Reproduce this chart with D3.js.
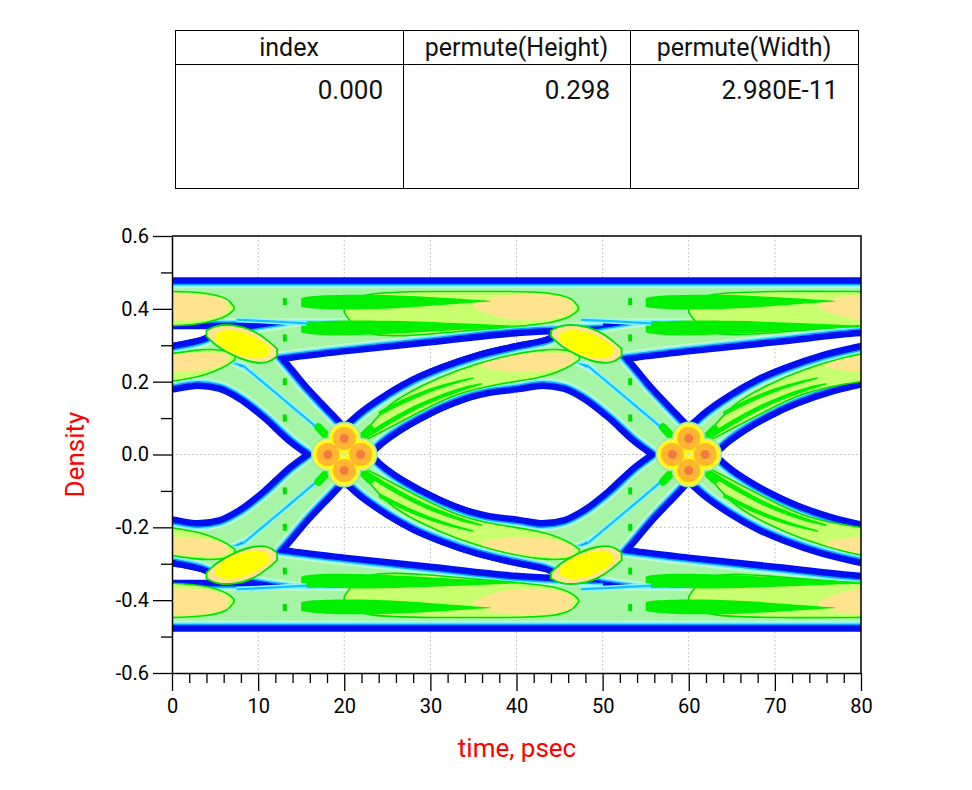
<!DOCTYPE html>
<html>
<head>
<meta charset="utf-8">
<title>Eye density</title>
<style>
  body { margin: 0; background: #fff; }
  svg { display: block; font-family: Roboto, "Liberation Sans", sans-serif; }
  .axis text { font-size: 20px; font-family: Roboto, sans-serif; fill: #000; }
</style>
<script src="https://cdn.jsdelivr.net/npm/d3@7/dist/d3.min.js"></script>
</head>
<body>
<script>

// ---------- table ----------
const tableHeaders = ["index", "permute(Height)", "permute(Width)"];
const tableValues  = ["0.000", "0.298", "2.980E-11"];

// ---------- axes ----------
const xMajorTicks = [0, 10, 20, 30, 40, 50, 60, 70, 80];
const xMinorTicks = [2, 4, 6, 8, 12, 14, 16, 18, 22, 24, 26, 28, 32, 34, 36, 38,
                     42, 44, 46, 48, 52, 54, 56, 58, 62, 64, 66, 68, 72, 74, 76, 78];
const yMajorTicks = [-0.6, -0.4, -0.2, 0, 0.2, 0.4, 0.6];
const yMinorTicks = [-0.5, -0.3, -0.1, 0.1, 0.3, 0.5];
const xGrid = [10, 20, 30, 40, 50, 60, 70];
const yGrid = [-0.4, -0.2, 0, 0.2, 0.4];

// ---------- traces [time psec, level] ----------
const levelHigh = [[-5, 0.415], [85, 0.415]];
const levelLow  = [[-5, -0.415], [85, -0.415]];
const stayHigh = [[-5,0.22],[0,0.245],[4,0.265],[7,0.29],[9,0.3],[13,0.315],[20,0.335],[30,0.36],[40,0.385],[50,0.395]];
const stayLow  = [[-5,-0.22],[0,-0.245],[4,-0.265],[7,-0.29],[9,-0.3],[13,-0.315],[20,-0.335],[30,-0.36],[40,-0.385],[50,-0.395]];
const riseA = [[-5,-0.22],[0,-0.245],[4,-0.265],[7,-0.29],[9,-0.28],[11.5,-0.22],[14,-0.15],[17,-0.075],[20,0],[23,0.07],[26,0.12],[29,0.16],[32,0.19],[36,0.222],[40,0.245],[44,0.265],[47,0.29],[49,0.3],[53,0.315],[60,0.335],[70,0.36],[80,0.385],[85,0.39]];
const fallA = [[-5,0.22],[0,0.245],[4,0.265],[7,0.29],[9,0.28],[11.5,0.22],[14,0.15],[17,0.075],[20,0],[23,-0.07],[26,-0.12],[29,-0.16],[32,-0.19],[36,-0.222],[40,-0.245],[44,-0.265],[47,-0.29],[49,-0.3],[53,-0.315],[60,-0.335],[70,-0.36],[80,-0.385],[85,-0.39]];
const riseB = [[26,-0.12],[29,-0.16],[32,-0.19],[36,-0.222],[40,-0.245],[44,-0.265],[47,-0.29],[49,-0.28],[51.5,-0.22],[54,-0.15],[57,-0.075],[60,0],[63,0.07],[66,0.12],[69,0.16],[72,0.19],[76,0.222],[80,0.245],[84,0.265]];
const fallB = [[26,0.12],[29,0.16],[32,0.19],[36,0.222],[40,0.245],[44,0.265],[47,0.29],[49,0.28],[51.5,0.22],[54,0.15],[57,0.075],[60,0],[63,-0.07],[66,-0.12],[69,-0.16],[72,-0.19],[76,-0.222],[80,-0.245],[84,-0.265]];
const fallA2 = [[-4,0.2],[0,0.225],[3,0.235],[6,0.225],[9,0.19],[12,0.135],[15,0.07],[17,0.035],[19,0],[22,-0.055],[25,-0.1],[28,-0.14],[32,-0.185],[36,-0.22],[40,-0.245],[45,-0.265]];
const riseA2 = [[-4,-0.2],[0,-0.225],[3,-0.235],[6,-0.225],[9,-0.19],[12,-0.135],[15,-0.07],[17,-0.035],[19,0],[22,0.055],[25,0.1],[28,0.14],[32,0.185],[36,0.22],[40,0.245],[45,0.265]];
const fallB2 = [[28,0.14],[32,0.185],[36,0.212],[40,0.225],[43,0.235],[46,0.225],[49,0.19],[52,0.135],[55,0.07],[57,0.035],[59,0],[62,-0.055],[65,-0.1],[68,-0.14],[72,-0.185],[76,-0.22],[80,-0.245],[85,-0.265]];
const riseB2 = [[28,-0.14],[32,-0.185],[36,-0.212],[40,-0.225],[43,-0.235],[46,-0.225],[49,-0.19],[52,-0.135],[55,-0.07],[57,-0.035],[59,0],[62,0.055],[65,0.1],[68,0.14],[72,0.185],[76,0.22],[80,0.245],[85,0.265]];

// ---------- density detail bands [time, low, high] ----------
const ygUpper = [
  [[-5,0.352,0.448],[0,0.352,0.448],[4,0.36,0.445],[6.5,0.38,0.43],[7.2,0.398,0.405]],
  [[20,0.39,0.41],[22,0.318,0.445],[30,0.33,0.448],[40,0.352,0.448],[44,0.36,0.445],[46.5,0.38,0.43],[47.2,0.398,0.405]],
  [[60,0.39,0.41],[62,0.32,0.445],[70,0.335,0.448],[80,0.355,0.448],[85,0.36,0.445]],
  [[-5,0.2,0.27],[-2,0.195,0.268],[3,0.21,0.29],[6,0.238,0.288],[7.3,0.26,0.275]],
  [[22.5,0.04,0.065],[25,0.07,0.138],[29,0.12,0.19],[33,0.168,0.232],[38,0.195,0.268],[43,0.21,0.29],[46,0.238,0.288],[47.3,0.26,0.275]],
  [[62.5,0.04,0.065],[65,0.07,0.138],[69,0.12,0.19],[73,0.168,0.232],[78,0.195,0.268],[83,0.21,0.29]]
];
const ygLower = [
  [[-5,-0.448,-0.352],[0,-0.448,-0.352],[4,-0.445,-0.36],[6.5,-0.43,-0.38],[7.2,-0.405,-0.398]],
  [[20,-0.41,-0.39],[22,-0.445,-0.318],[30,-0.448,-0.33],[40,-0.448,-0.352],[44,-0.445,-0.36],[46.5,-0.43,-0.38],[47.2,-0.405,-0.398]],
  [[60,-0.41,-0.39],[62,-0.445,-0.32],[70,-0.448,-0.335],[80,-0.448,-0.355],[85,-0.445,-0.36]],
  [[-5,-0.27,-0.2],[-2,-0.268,-0.195],[3,-0.29,-0.21],[6,-0.288,-0.238],[7.3,-0.275,-0.26]],
  [[22.5,-0.065,-0.04],[25,-0.138,-0.07],[29,-0.19,-0.12],[33,-0.232,-0.168],[38,-0.268,-0.195],[43,-0.29,-0.21],[46,-0.288,-0.238],[47.3,-0.275,-0.26]],
  [[62.5,-0.065,-0.04],[65,-0.138,-0.07],[69,-0.19,-0.12],[73,-0.232,-0.168],[78,-0.268,-0.195],[83,-0.29,-0.21]]
];
const paleUpper = [
  [[-5,0.37,0.44],[-2,0.37,0.44],[4,0.365,0.442],[6.5,0.39,0.422]],
  [[35,0.405,0.415],[38,0.37,0.44],[44,0.365,0.442],[46.5,0.39,0.422]],
  [[75,0.405,0.415],[78,0.37,0.44],[84,0.365,0.442]],
  [[-5,0.225,0.27],[-1,0.225,0.27],[4,0.228,0.283],[6.5,0.25,0.275]],
  [[36,0.24,0.25],[39,0.225,0.27],[44,0.228,0.283],[46.5,0.25,0.275]],
  [[76,0.24,0.25],[79,0.225,0.27],[84,0.228,0.283]]
];
const paleLower = [
  [[-5,-0.44,-0.37],[-2,-0.44,-0.37],[4,-0.442,-0.365],[6.5,-0.422,-0.39]],
  [[35,-0.415,-0.405],[38,-0.44,-0.37],[44,-0.442,-0.365],[46.5,-0.422,-0.39]],
  [[75,-0.415,-0.405],[78,-0.44,-0.37],[84,-0.442,-0.365]],
  [[-5,-0.27,-0.225],[-1,-0.27,-0.225],[4,-0.283,-0.228],[6.5,-0.275,-0.25]],
  [[36,-0.25,-0.24],[39,-0.27,-0.225],[44,-0.283,-0.228],[46.5,-0.275,-0.25]],
  [[76,-0.25,-0.24],[79,-0.27,-0.225],[84,-0.283,-0.228]]
];
const greenUpper = [
  [[15,0.405,0.43],[17,0.398,0.438],[24,0.398,0.44],[30,0.408,0.432],[35,0.417,0.425],[37,0.42,0.422]],
  [[15,0.335,0.36],[17,0.325,0.368],[25,0.33,0.368],[32,0.34,0.362],[38,0.348,0.356],[41,0.351,0.353]],
  [[55,0.405,0.43],[57,0.398,0.438],[64,0.398,0.44],[70,0.408,0.432],[75,0.417,0.425],[77,0.42,0.422]],
  [[55,0.335,0.36],[57,0.325,0.368],[65,0.33,0.368],[72,0.34,0.362],[78,0.348,0.356],[81,0.351,0.353]],
  [[22,0.035,0.05],[25,0.08,0.095],[28,0.12,0.134],[31,0.152,0.164],[34,0.178,0.188],[36,0.192,0.196]],
  [[24,0.105,0.118],[27,0.142,0.155],[30,0.172,0.183],[33,0.195,0.203],[35,0.208,0.212]],
  [[62,0.035,0.05],[65,0.08,0.095],[68,0.12,0.134],[71,0.152,0.164],[74,0.178,0.188],[76,0.192,0.196]],
  [[64,0.105,0.118],[67,0.142,0.155],[70,0.172,0.183],[73,0.195,0.203],[75,0.208,0.212]]
];
const greenLower = [
  [[15,-0.43,-0.405],[17,-0.438,-0.398],[24,-0.44,-0.398],[30,-0.432,-0.408],[35,-0.425,-0.417],[37,-0.422,-0.42]],
  [[15,-0.36,-0.335],[17,-0.368,-0.325],[25,-0.368,-0.33],[32,-0.362,-0.34],[38,-0.356,-0.348],[41,-0.353,-0.351]],
  [[55,-0.43,-0.405],[57,-0.438,-0.398],[64,-0.44,-0.398],[70,-0.432,-0.408],[75,-0.425,-0.417],[77,-0.422,-0.42]],
  [[55,-0.36,-0.335],[57,-0.368,-0.325],[65,-0.368,-0.33],[72,-0.362,-0.34],[78,-0.356,-0.348],[81,-0.353,-0.351]],
  [[22,-0.05,-0.035],[25,-0.095,-0.08],[28,-0.134,-0.12],[31,-0.164,-0.152],[34,-0.188,-0.178],[36,-0.196,-0.192]],
  [[24,-0.118,-0.105],[27,-0.155,-0.142],[30,-0.183,-0.172],[33,-0.203,-0.195],[35,-0.212,-0.208]],
  [[62,-0.05,-0.035],[65,-0.095,-0.08],[68,-0.134,-0.12],[71,-0.164,-0.152],[74,-0.188,-0.178],[76,-0.196,-0.192]],
  [[64,-0.118,-0.105],[67,-0.155,-0.142],[70,-0.183,-0.172],[73,-0.203,-0.195],[75,-0.212,-0.208]]
];
const blobOuter = [
  [[4,0.325,0.34],[5,0.3,0.354],[7,0.272,0.358],[9.5,0.25,0.342],[11.3,0.252,0.31],[12.2,0.27,0.29]],
  [[44,0.325,0.34],[45,0.3,0.354],[47,0.272,0.358],[49.5,0.25,0.342],[51.3,0.252,0.31],[52.2,0.27,0.29]],
  [[4,-0.34,-0.325],[5,-0.354,-0.3],[7,-0.358,-0.272],[9.5,-0.342,-0.25],[11.3,-0.31,-0.252],[12.2,-0.29,-0.27]],
  [[44,-0.34,-0.325],[45,-0.354,-0.3],[47,-0.358,-0.272],[49.5,-0.342,-0.25],[51.3,-0.31,-0.252],[52.2,-0.29,-0.27]]
];
const blobCore = [
  [[5,0.315,0.33],[6,0.288,0.345],[8.5,0.265,0.338],[10.5,0.262,0.31],[11.3,0.278,0.295]],
  [[45,0.315,0.33],[46,0.288,0.345],[48.5,0.265,0.338],[50.5,0.262,0.31],[51.3,0.278,0.295]],
  [[5,-0.33,-0.315],[6,-0.345,-0.288],[8.5,-0.338,-0.265],[10.5,-0.31,-0.262],[11.3,-0.295,-0.278]],
  [[45,-0.33,-0.315],[46,-0.345,-0.288],[48.5,-0.338,-0.265],[50.5,-0.31,-0.262],[51.3,-0.295,-0.278]]
];
const cyanStreaks = [
  [[8.3,0.243],[11,0.19],[14,0.13],[16.5,0.08],[18.3,0.041]],
  [[48.3,0.243],[51,0.19],[54,0.13],[56.5,0.08],[58.3,0.041]],
  [[8.3,-0.243],[11,-0.19],[14,-0.13],[16.5,-0.08],[18.3,-0.041]],
  [[48.3,-0.243],[51,-0.19],[54,-0.13],[56.5,-0.08],[58.3,-0.041]],
  [[7.5,0.37],[11,0.366],[15.6,0.36]],
  [[47.5,0.37],[51,0.366],[55.6,0.36]],
  [[7.5,-0.37],[11,-0.366],[15.6,-0.36]],
  [[47.5,-0.37],[51,-0.366],[55.6,-0.36]]
];
const greenDots = [[13.1,0.42],[13.1,0.32],[13.1,0.2],[13.1,0.1],[13.1,-0.1],[13.1,-0.2],[13.1,-0.32],[13.1,-0.42],
                   [53.2,0.42],[53.2,0.32],[53.2,0.2],[53.2,0.1],[53.2,-0.1],[53.2,-0.2],[53.2,-0.32],[53.2,-0.42]];
const crossLobes = [[18.1,0],[21.9,0],[20,0.044],[20,-0.044],[58.1,0],[61.9,0],[60,0.044],[60,-0.044]];

// ---------- layout ----------
var svg = d3.select("body").append("svg")
    .attr("width", 972)
    .attr("height", 790);

var plot = {left: 172, top: 236, right: 861, bottom: 673};

var x = d3.scaleLinear().domain([0, 80]).range([plot.left, plot.right]);
var y = d3.scaleLinear().domain([-0.6, 0.6]).range([plot.bottom, plot.top]);

// Table on top
var tbl = {left: 175, top: 30, right: 858, bottom: 188, head: 64, cols: [175, 403, 630, 858]};
var tg = svg.append("g").attr("font-size", 25).attr("fill", "#111");
tg.append("rect")
    .attr("x", tbl.left + 0.5).attr("y", tbl.top + 0.5)
    .attr("width", tbl.right - tbl.left).attr("height", tbl.bottom - tbl.top)
    .attr("fill", "none").attr("stroke", "#000");
tg.append("line")
    .attr("x1", tbl.left).attr("x2", tbl.right)
    .attr("y1", tbl.head + 0.5).attr("y2", tbl.head + 0.5)
    .attr("stroke", "#000");
tg.selectAll(".coldiv").data(tbl.cols.slice(1, 3)).enter().append("line")
    .attr("class", "coldiv")
    .attr("x1", d => d + 0.5).attr("x2", d => d + 0.5)
    .attr("y1", tbl.top).attr("y2", tbl.bottom)
    .attr("stroke", "#000");
tg.selectAll(".head").data(tableHeaders).enter().append("text")
    .attr("class", "head")
    .attr("x", (d, i) => (tbl.cols[i] + tbl.cols[i + 1]) / 2)
    .attr("y", 56)
    .attr("text-anchor", "middle")
    .text(d => d);
tg.selectAll(".val").data(tableValues).enter().append("text")
    .attr("class", "val")
    .attr("x", (d, i) => tbl.cols[i + 1] - 20)
    .attr("y", 99)
    .attr("text-anchor", "end")
    .style("font-size", "26px")
    .text(d => d);

// Grid (behind the density)
var grid = svg.append("g").attr("stroke", "#b8b8b8").attr("stroke-dasharray", "1.5,2.5");
grid.selectAll(".gx").data(xGrid).enter().append("line")
    .attr("x1", d => x(d)).attr("x2", d => x(d))
    .attr("y1", plot.top).attr("y2", plot.bottom);
grid.selectAll(".gy").data(yGrid).enter().append("line")
    .attr("x1", plot.left).attr("x2", plot.right)
    .attr("y1", d => y(d)).attr("y2", d => y(d));

svg.append("clipPath").attr("id", "plotClip")
  .append("rect")
    .attr("x", plot.left).attr("y", plot.top)
    .attr("width", plot.right - plot.left).attr("height", plot.bottom - plot.top);

var plotG = svg.append("g").attr("clip-path", "url(#plotClip)");

var line = d3.line().x(d => x(d[0])).y(d => y(d[1])).curve(d3.curveMonotoneX);
var band = d3.area().x(d => x(d[0])).y0(d => y(d[1])).y1(d => y(d[2])).curve(d3.curveBasis);

// The traces, each drawn as a thick bundle; rings go from outer blue to inner light green
var traces = [
  {pts: levelHigh, w: 52}, {pts: levelLow, w: 52},
  {pts: stayHigh, w: 44}, {pts: stayLow, w: 44},
  {pts: riseA, w: 44}, {pts: fallA, w: 44}, {pts: riseB, w: 44}, {pts: fallB, w: 44},
  {pts: riseA2, w: 40}, {pts: fallA2, w: 40}, {pts: riseB2, w: 40}, {pts: fallB2, w: 40}
];
var rings = [
  {color: "#0010f0", cut: 0},
  {color: "#00a6ff", cut: 13},
  {color: "#74eeff", cut: 16},
  {color: "#c2fccb", cut: 19},
  {color: "#a6f5a6", cut: 22}
];
rings.forEach(r => {
  plotG.append("g").selectAll("path")
      .data(traces)
    .enter().append("path")
      .attr("d", d => line(d.pts))
      .attr("fill", "none")
      .attr("stroke", r.color)
      .attr("stroke-width", d => d.w - r.cut);
});

function drawBands(list, fill, stroke, sw) {
  plotG.append("g").selectAll("path")
      .data(list)
    .enter().append("path")
      .attr("d", band)
      .attr("fill", fill)
      .attr("stroke", stroke || "none")
      .attr("stroke-width", sw || 0);
}

drawBands(ygUpper.concat(ygLower), "#c8ff6e", "#00e000", 1.6);
drawBands(paleUpper.concat(paleLower), "#ffe38e");
drawBands(greenUpper.concat(greenLower), "#00f000");

// thin low-density streaks
[{c: "#8ef4ff", w: 5}, {c: "#10c0ff", w: 2.2}].forEach(s => {
  plotG.append("g").selectAll("path").data(cyanStreaks).enter().append("path")
      .attr("d", line).attr("fill", "none")
      .attr("stroke", s.c).attr("stroke-width", s.w);
});

plotG.append("g").selectAll("rect").data(greenDots).enter().append("rect")
    .attr("x", d => x(d[0]) - 2).attr("y", d => y(d[1]) - 3.5)
    .attr("width", 4).attr("height", 7)
    .attr("fill", "#00e000");

// green arms right at the crossings
var arms = [{pts: riseA, c: 20}, {pts: fallA, c: 20}, {pts: riseB, c: 60}, {pts: fallB, c: 60}];
plotG.append("g").selectAll("path").data(arms).enter().append("path")
    .attr("d", d => line(d.pts.filter(p => p[0] >= d.c - 3 && p[0] <= d.c + 3)))
    .attr("fill", "none").attr("stroke", "#00f000").attr("stroke-width", 8)
    .attr("stroke-linecap", "round");

drawBands(blobOuter, "#ffe38e", "#00e000", 1.8);
drawBands(blobCore, "#ffff00");

// crossing cluster
[{r: 17, c: "#8cf08c"}, {r: 15.5, c: "#ffe38e"}, {r: 14, c: "#ffff00"}, {r: 11.5, c: "#ffb732"}, {r: 4.5, c: "#f07a40"}]
  .forEach(l => {
    plotG.append("g").selectAll("circle").data(crossLobes).enter().append("circle")
        .attr("cx", d => x(d[0])).attr("cy", d => y(d[1]))
        .attr("r", l.r).attr("fill", l.c);
  });

// Axes
svg.append("g").attr("class", "axis")
    .attr("transform", `translate(0,${plot.bottom})`)
    .call(d3.axisBottom(x).tickValues(xMajorTicks).tickSize(18).tickSizeOuter(0).tickPadding(8))
    .attr("font-size", 20).attr("font-family", "Roboto");
svg.append("g").attr("class", "axis")
    .attr("transform", `translate(0,${plot.bottom})`)
    .call(d3.axisBottom(x).tickValues(xMinorTicks).tickSize(10).tickFormat(""))
    .select(".domain").remove();

svg.append("g").attr("class", "axis")
    .attr("transform", `translate(${plot.left},0)`)
    .call(d3.axisLeft(y).tickValues(yMajorTicks).tickSize(19).tickSizeOuter(0).tickPadding(4)
      .tickFormat(d => d.toFixed(1)))
    .attr("font-size", 20).attr("font-family", "Roboto");
svg.append("g").attr("class", "axis")
    .attr("transform", `translate(${plot.left},0)`)
    .call(d3.axisLeft(y).tickValues(yMinorTicks).tickSize(11).tickFormat(""))
    .select(".domain").remove();

svg.selectAll(".tick line").attr("stroke", "#000").attr("stroke-width", 1.3);
svg.selectAll(".domain").attr("stroke", "#000").attr("stroke-width", 1.5);

// frame top and right
svg.append("path")
    .attr("d", `M${plot.left},${plot.top}H${plot.right}V${plot.bottom}`)
    .attr("fill", "none").attr("stroke", "#000").attr("stroke-width", 1.5);

// axis titles
svg.append("text")
    .attr("transform", `translate(84,${y(0)}) rotate(-90)`)
    .attr("text-anchor", "middle")
    .attr("fill", "#ff0000")
    .style("font-size", "26px")
    .text("Density");
svg.append("text")
    .attr("x", 517)
    .attr("y", 757)
    .attr("text-anchor", "middle")
    .attr("fill", "#ff0000")
    .style("font-size", "26px")
    .text("time, psec");

</script>
</body>
</html>
